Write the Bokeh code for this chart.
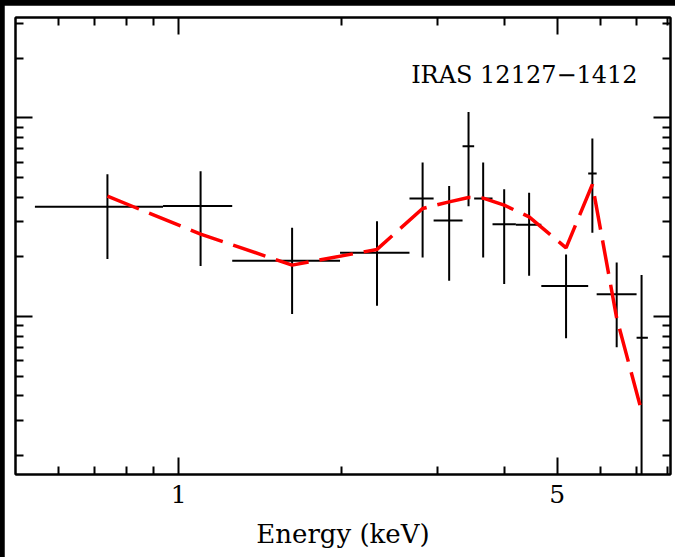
from bokeh.plotting import figure
from bokeh.models import Range1d, FixedTicker, LogAxis, Label, PrintfTickFormatter
from bokeh.layouts import column
from bokeh.embed import file_html
from bokeh.resources import INLINE

# ---- data (y in arbitrary flux units) ----
energy = [0.739, 1.098, 1.620, 2.324, 2.821, 3.158, 3.429, 3.649, 3.990, 4.436, 5.190, 5.804, 6.436, 7.154]
e_lo = [0.543, 0.936, 1.256, 1.986, 2.668, 2.956, 3.343, 3.512, 3.797, 4.193, 4.672, 5.702, 5.911, 7.004]
e_hi = [0.936, 1.256, 1.986, 2.668, 2.956, 3.343, 3.512, 3.797, 4.193, 4.672, 5.702, 5.911, 7.004, 7.348]
flux = [0.03571, 0.03612, 0.01912, 0.02097, 0.03936, 0.03051, 0.07208, 0.03936, 0.02922, 0.02899, 0.01427, 0.05257, 0.01300, 0.00784]
flux_lo = [0.01950, 0.01798, 0.01032, 0.01136, 0.01989, 0.01517, 0.03600, 0.01989, 0.01460, 0.01607, 0.00779, 0.02644, 0.00702, 0.0012]
flux_hi = [0.05215, 0.05399, 0.02801, 0.03027, 0.05970, 0.04552, 0.10720, 0.05970, 0.04382, 0.04208, 0.02059, 0.07881, 0.01877, 0.01620]
model = [0.04042, 0.02604, 0.01819, 0.02182, 0.03505, 0.03784, 0.03981, 0.03949, 0.03641, 0.03180, 0.02222, 0.04626, 0.009851, 0.003358]

x_major = [1, 5]
x_minor = [0.6, 0.7, 0.8, 0.9, 2, 3, 4, 6, 7, 8]
y_major = [0.01, 0.1]
y_minor = [0.002, 0.003, 0.004, 0.005, 0.006, 0.007, 0.008, 0.009,
           0.02, 0.03, 0.04, 0.05, 0.06, 0.07, 0.08, 0.09, 0.2, 0.3]

FONT = "DejaVu Serif"

p = figure(width=671, height=552, x_axis_type="log", y_axis_type="log",
           x_range=Range1d(0.5, 8.09), y_range=Range1d(0.00161, 0.32),
           output_backend="svg", toolbar_location=None,
           min_border_left=11, min_border_right=5, min_border_top=12, min_border_bottom=83,
           background_fill_color="white", border_fill_color="white",
           margin=(5, 0, 0, 4))
p.grid.visible = False
p.outline_line_color = "black"
p.outline_line_width = 2

xt = FixedTicker(ticks=x_major, minor_ticks=x_minor)
yt = FixedTicker(ticks=y_major, minor_ticks=y_minor)


def style_axis(ax, labels):
    ax.axis_line_color = "black"
    ax.axis_line_width = 2
    ax.major_tick_line_width = 2
    ax.minor_tick_line_width = 2
    ax.major_tick_line_color = "black"
    ax.minor_tick_line_color = "black"
    ax.major_tick_in = 17
    ax.major_tick_out = 0
    ax.minor_tick_in = 8
    ax.minor_tick_out = 0
    if not labels:
        ax.major_label_text_font_size = "1px"
        ax.major_label_text_alpha = 0
        ax.major_label_standoff = 0


xa = p.xaxis[0]
xa.ticker = xt
xa.formatter = PrintfTickFormatter(format="%g")
style_axis(xa, True)
xa.major_label_text_font = FONT
xa.major_label_text_font_size = "25px"
xa.major_label_text_color = "black"
xa.major_label_standoff = 10
xa.axis_label = "Energy (keV)"
xa.axis_label_text_font = FONT
xa.axis_label_text_font_size = "26px"
xa.axis_label_text_font_style = "normal"
xa.axis_label_text_color = "black"
xa.axis_label_standoff = 13

ya = p.yaxis[0]
ya.ticker = yt
style_axis(ya, False)

top = LogAxis(ticker=FixedTicker(ticks=x_major, minor_ticks=x_minor))
style_axis(top, False)
p.add_layout(top, "above")
right = LogAxis(ticker=FixedTicker(ticks=y_major, minor_ticks=y_minor))
style_axis(right, False)
p.add_layout(right, "right")

# data crosses
p.segment(x0=e_lo, x1=e_hi, y0=flux, y1=flux, line_color="black", line_width=2)
p.segment(x0=energy, x1=energy, y0=flux_lo, y1=flux_hi, line_color="black", line_width=2)

# model
p.line(energy, model, line_color="#ff0000", line_width=3.5, line_dash="34 11")

p.add_layout(Label(x=7.035, y=0.164, text="IRAS 12127\u22121412", text_align="right",
                   text_baseline="alphabetic", text_font=FONT, text_font_size="24px",
                   text_color="black"))

layout = column(p, styles={"background-color": "black"})

open("out.html", "w").write(file_html(layout, INLINE))
